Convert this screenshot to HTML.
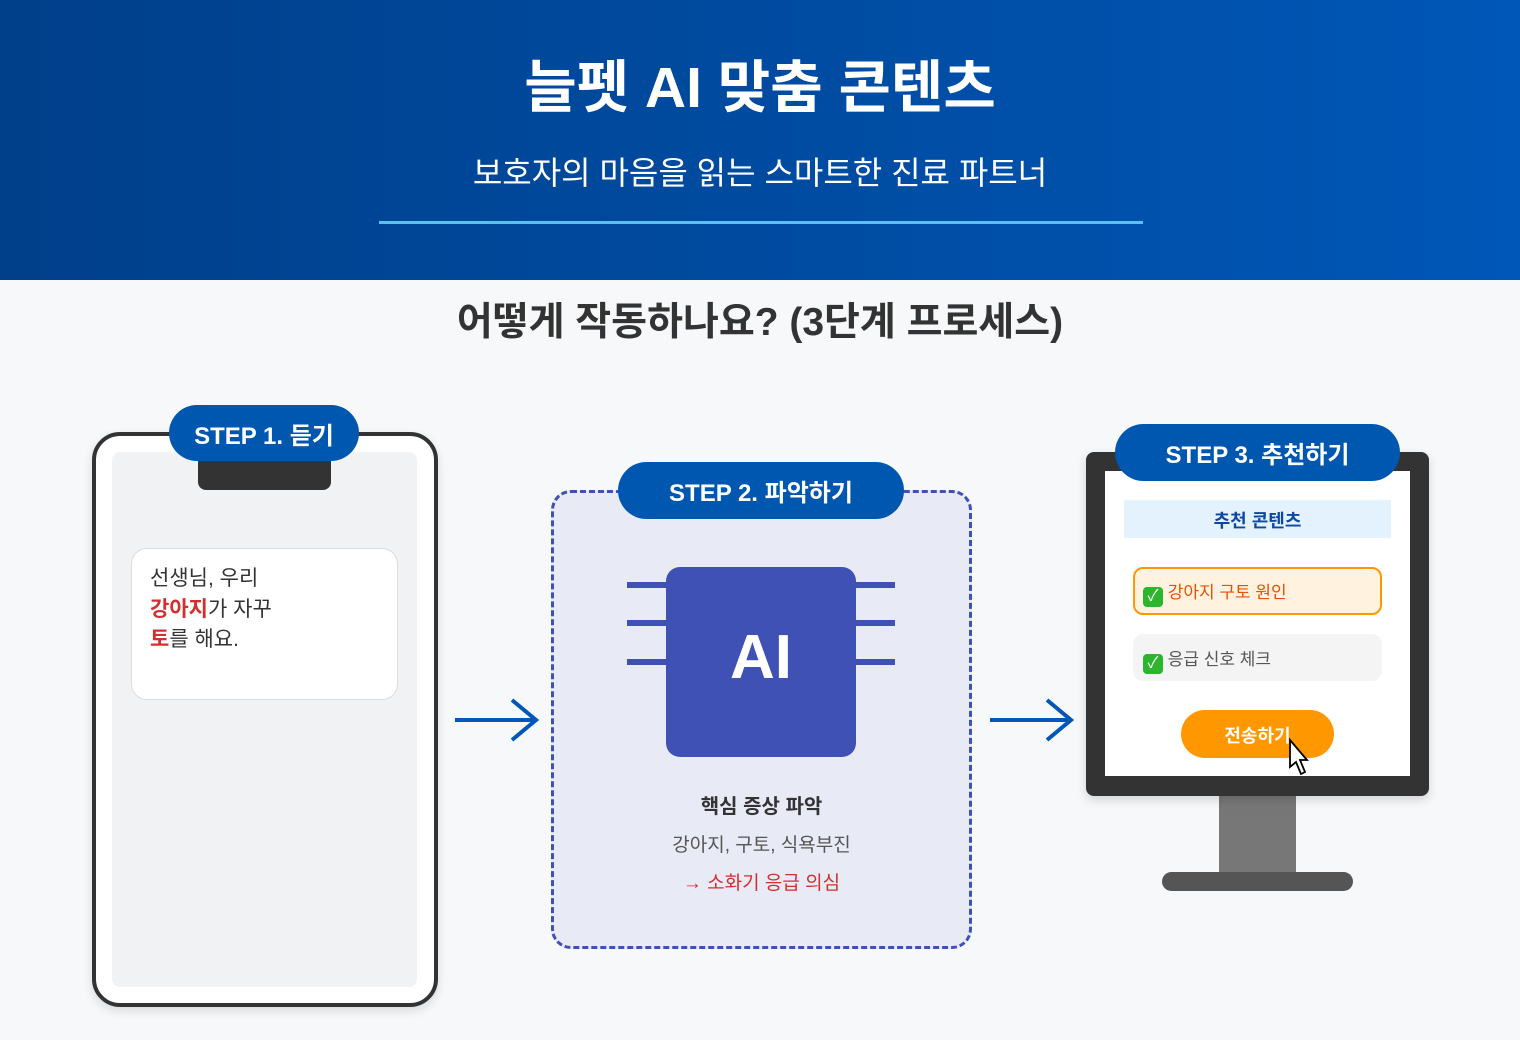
<!DOCTYPE html>
<html><head><meta charset="utf-8"><style>
*{margin:0;padding:0;box-sizing:border-box}
body{width:1520px;height:1040px;overflow:hidden;background:#f6f8fa;font-family:"Liberation Sans","Noto Sans CJK KR",sans-serif;position:relative}
.a{position:absolute}
.hdr{left:0;top:0;width:1520px;height:280px;background:linear-gradient(90deg,#003f8a,#0057b7)}
.c{text-align:center}
.badge{background:#0057b0;color:#fff;font-weight:bold;border-radius:30px;display:flex;align-items:center;justify-content:center;font-size:24px}
</style></head><body>
<div class="a hdr"></div>
<div class="a c" style="left:0;top:50px;width:1520px;font-size:57px;font-weight:bold;color:#fff;line-height:76px">늘펫 AI 맞춤 콘텐츠</div>
<div class="a c" style="left:0;top:151px;width:1520px;font-size:32px;color:#fff;line-height:44px">보호자의 마음을 읽는 스마트한 진료 파트너</div>
<div class="a" style="left:379px;top:221px;width:764px;height:3px;background:#5bc0f0"></div>
<div class="a c" style="left:0;top:298px;width:1520px;font-size:39px;font-weight:bold;color:#333;line-height:50px">어떻게 작동하나요? (3단계 프로세스)</div>

<!-- phone -->
<div class="a" style="left:92px;top:432px;width:346px;height:575px;border:4px solid #333;border-radius:28px;background:#fff;box-shadow:0 4px 10px rgba(0,0,0,.12)"></div>
<div class="a" style="left:112px;top:452px;width:305px;height:535px;background:#f1f2f4;border-radius:8px"></div>
<div class="a" style="left:198px;top:455px;width:133px;height:35px;background:#333;border-radius:0 0 8px 8px"></div>
<div class="a badge" style="left:169px;top:405px;width:190px;height:56px">STEP 1. 듣기</div>
<div class="a" style="left:131px;top:548px;width:267px;height:152px;background:#fff;border:1.5px solid #ddd;border-radius:16px"></div>
<div class="a" style="left:150px;top:564px;font-size:21px;line-height:30.5px;color:#333">선생님, 우리<br><b style="color:#d32f2f">강아지</b>가 자꾸<br><b style="color:#d32f2f">토</b>를 해요.</div>

<!-- arrows -->
<svg class="a" style="left:450px;top:695px" width="95" height="50"><path d="M5 25H85M62 5L86 25L62 45" stroke="#0057b7" stroke-width="4" fill="none"/></svg>
<svg class="a" style="left:985px;top:695px" width="95" height="50"><path d="M5 25H85M62 5L86 25L62 45" stroke="#0057b7" stroke-width="4" fill="none"/></svg>

<!-- step 2 -->
<div class="a" style="left:551px;top:490px;width:421px;height:459px;border:3px dashed #3f51b5;border-radius:20px;background:#e8eaf6"></div>
<div class="a badge" style="left:618px;top:462px;width:286px;height:57px">STEP 2. 파악하기</div>
<svg class="a" style="left:620px;top:560px" width="285" height="205">
<g stroke="#3f51b5" stroke-width="6"><path d="M7 25H50M7 63H50M7 102H50M235 25H275M235 63H275M235 102H275"/></g>
<rect x="46" y="7" width="190" height="190" rx="14" fill="#3f51b5"/></svg>
<div class="a c" style="left:666px;top:620px;width:190px;font-size:62px;font-weight:bold;color:#fff;line-height:76px">AI</div>
<div class="a c" style="left:551px;top:793px;width:421px;font-size:20px;font-weight:bold;color:#333;line-height:28px">핵심 증상 파악</div>
<div class="a c" style="left:551px;top:833px;width:421px;font-size:19px;color:#555;line-height:26px">강아지, 구토, 식욕부진</div>
<div class="a c" style="left:551px;top:871px;width:421px;font-size:19px;color:#d32f2f;line-height:26px">→ 소화기 응급 의심</div>

<!-- monitor -->
<div class="a" style="left:1219px;top:794px;width:77px;height:80px;background:#777"></div>
<div class="a" style="left:1162px;top:872px;width:191px;height:19px;background:#555;border-radius:10px"></div>
<div class="a" style="left:1086px;top:452px;width:343px;height:344px;background:#333;border-radius:8px;box-shadow:0 4px 10px rgba(0,0,0,.15)"></div>
<div class="a" style="left:1105px;top:471px;width:305px;height:305px;background:#fff"></div>
<div class="a badge" style="left:1115px;top:424px;width:285px;height:57px">STEP 3. 추천하기</div>
<div class="a c" style="left:1124px;top:500px;width:267px;height:38px;background:#e3f2fd;color:#0d47a1;font-size:18px;font-weight:bold;line-height:42px">추천 콘텐츠</div>
<div class="a" style="left:1133px;top:567px;width:249px;height:48px;background:#fff3e0;border:2px solid #ff9800;border-radius:10px;color:#e65100;font-size:17px;line-height:48px;padding-left:8px"><span style="display:inline-block;width:20px;height:20px;background:#2db52d;border-radius:4px;color:#fff;font-size:16px;line-height:20px;text-align:center;vertical-align:-3px">✓</span> 강아지 구토 원인</div>
<div class="a" style="left:1133px;top:634px;width:249px;height:47px;background:#f4f4f4;border-radius:10px;color:#555;font-size:17px;line-height:51px;padding-left:10px"><span style="display:inline-block;width:20px;height:20px;background:#2db52d;border-radius:4px;color:#fff;font-size:16px;line-height:20px;text-align:center;vertical-align:-3px">✓</span> 응급 신호 체크</div>
<div class="a c" style="left:1181px;top:710px;width:153px;height:48px;background:#ff9800;border-radius:24px;color:#fff;font-size:18px;font-weight:bold;line-height:52px">전송하기</div>
<svg class="a" style="left:1286px;top:737px" width="24" height="42"><path d="M4 3L4 30L10 25L15 37L19 35L14 23L21 23Z" fill="#fff" stroke="#000" stroke-width="1.8"/></svg>
</body></html>
